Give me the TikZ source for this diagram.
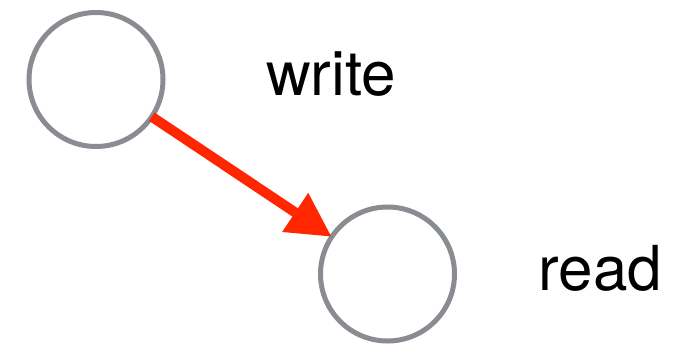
\documentclass[tikz,border=0pt]{standalone}
\usepackage{fontspec}
\setmainfont{TeX Gyre Heros}
\usetikzlibrary{arrows.meta}
\definecolor{ringgray}{RGB}{137,140,145}
\definecolor{arrowred}{RGB}{255,38,0}
\begin{document}
\begin{tikzpicture}[x=1pt,y=-1pt,
  ring/.style={circle,draw=ringgray,line width=5pt,minimum size=134pt,inner sep=0pt,outer sep=0pt},
  lbl/.style={anchor=base,font=\fontsize{62}{70}\selectfont,inner sep=0pt},
  rel/.style={draw=arrowred,line width=10pt,-{Triangle[length=44pt,width=44pt]}}]
\useasboundingbox (0,0) rectangle (692,343);
\node[ring] (w) at (96,79.5) {};
\node[ring] (r) at (387.5,274) {};
\node[lbl] (tw) at (331,95) {write};
\node[lbl] (tr) at (600.5,290) {read};
\draw[rel] (w) -- (r);
\end{tikzpicture}
\end{document}
